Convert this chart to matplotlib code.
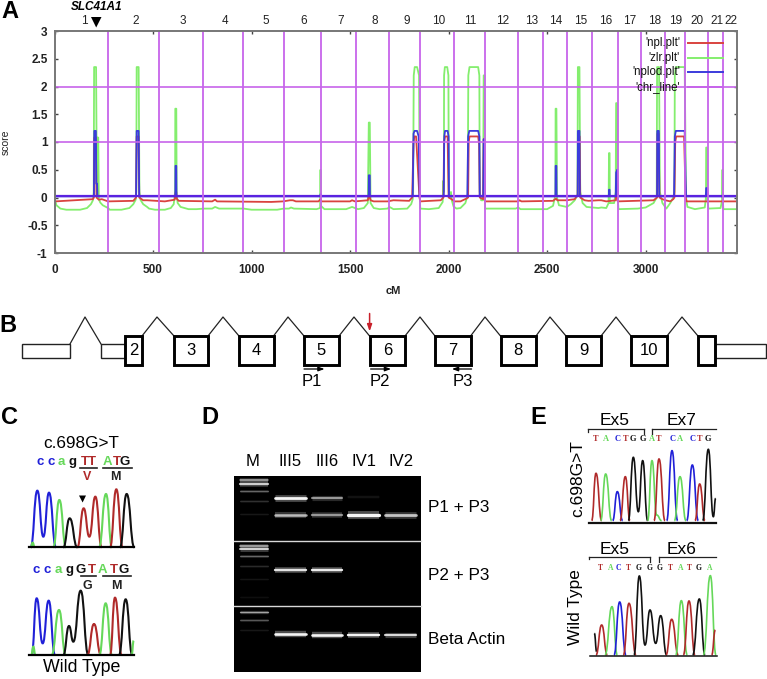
import matplotlib
matplotlib.use("Agg")
import matplotlib.pyplot as plt
from matplotlib.path import Path
from matplotlib.patches import PathPatch, Rectangle, Polygon

plt.rcParams['font.family'] = ['Liberation Sans', 'DejaVu Sans']
W, H = 767, 679

# ---------- Panel A data ----------
chr_bounds = [272, 530, 752, 957, 1163, 1351, 1530, 1698, 1855, 2028, 2184, 2353, 2480,
              2600, 2728, 2859, 2977, 3100, 3201, 3316, 3392]
chr_labels = ['1', '2', '3', '4', '5', '6', '7', '8', '9', '10', '11', '12', '13', '14',
              '15', '16', '17', '18', '19', '20', '21', '22']
chr_label_px = [84, 136, 183, 225, 266, 304, 341, 375, 407, 439, 470, 503, 532, 556, 581, 606,
                630, 655, 676, 697, 717, 731]
zlr = [(0,.5),(3,-.05),(10,-.14),(30,-.2),(60,-.22),(130,-.22),(165,-.19),(185,-.12),(195,-.05),(199,.1),
       (201,2.35),(211,2.35),(215,.1),(218,1.08),(222,1.08),(225,-.03),(232,-.09),(245,-.14),(272,-.19),
       (280,-.22),(340,-.22),(380,-.19),(400,-.12),(412,-.04),(415,.1),(417,2.35),(427,2.35),(431,.1),
       (436,-.04),(450,-.12),(470,-.17),(480,-.2),(510,-.22),(560,-.22),(590,-.19),(605,-.12),(612,.1),
       (613,1.6),(618,1.6),(620,.05),(625,-.1),(640,-.17),(680,-.21),(720,-.21),(760,-.2),(800,-.2),
       (815,-.17),(835,-.2),(960,-.2),(1000,-.22),(1130,-.22),(1163,-.2),(1190,-.2),(1200,-.18),(1215,-.2),
       (1330,-.21),(1348,-.19),(1350,.5),(1352,-.15),(1370,-.21),(1480,-.21),(1510,-.17),(1540,-.21),
       (1570,-.19),(1590,-.1),(1595,1.35),(1600,1.35),(1604,-.1),(1620,-.19),(1650,-.21),(1690,-.2),
       (1700,-.17),(1720,-.21),(1790,-.2),(1810,-.12),(1818,-.03),(1820,.1),(1823,2.2),(1828,2.35),
       (1840,2.35),(1850,2.2),(1853,.1),(1856,-.2),(1900,-.21),(1950,-.19),(1970,-.08),(1973,.3),(1976,.1),
       (1977,2.2),(1981,2.35),(1993,2.35),(1999,2.2),(2001,.1),(2005,0),(2012,.1),(2016,-.05),(2025,-.16),
       (2040,-.2),(2060,-.19),(2085,-.1),(2097,.05),(2100,2.2),(2106,2.35),(2150,2.35),(2156,2.2),(2158,.1),
       (2165,-.05),(2175,-.05),(2178,2.2),(2182,2.2),(2185,-.2),(2340,-.2),(2353,-.18),(2365,-.21),
       (2500,-.21),(2530,-.15),(2542,.05),(2543,1.6),(2547,1.6),(2550,0),(2560,-.14),(2600,-.17),(2620,-.12),
       (2640,-.05),(2654,.05),(2656,2.35),(2664,2.35),(2668,.1),(2680,-.1),(2700,-.17),(2760,-.19),
       (2775,-.18),(2800,-.19),(2812,-.1),(2814,.8),(2817,.8),(2818,-.1),(2840,-.1),(2848,.1),(2850,1.7),
       (2855,1.7),(2858,0),(2862,-.21),(2960,-.2),(3000,-.18),(3040,-.1),(3056,0),(3058,2.35),(3068,2.35),
       (3072,.1),(3085,-.1),(3105,-.2),(3125,-.1),(3140,0),(3146,.1),(3148,2.2),(3153,2.35),(3198,2.35),
       (3204,.3),(3206,-.05),(3212,-.17),(3250,-.21),(3300,-.18),(3306,0),(3307,.9),(3311,.9),(3313,0),
       (3318,-.2),(3380,-.19),(3388,-.05),(3390,.5),(3391,0),(3394,-.21),(3462,-.21)]
npl = [(0,-.03),(5,-.07),(195,-.03),(200,0),(202,1.08),(210,1.08),(213,0),(225,-.04),(240,-.03),(272,-.07),
       (400,-.06),(414,0),(417,1.1),(427,1.1),(430,0),(450,-.05),(470,-.05),(560,-.07),(610,-.04),(615,.1),
       (618,.1),(620,-.02),(630,-.06),(800,-.07),(815,-.04),(825,-.07),(1100,-.08),(1160,-.07),(1195,-.05),
       (1210,-.05),(1225,-.07),(1340,-.07),(1350,-.03),(1355,-.07),(1500,-.07),(1510,-.05),(1525,-.07),
       (1590,-.05),(1597,.05),(1604,-.05),(1620,-.07),(1690,-.07),(1720,-.05),(1800,-.06),(1815,0),(1822,1.0),
       (1826,1.1),(1835,1.1),(1852,0),(1856,-.07),(1960,-.05),(1974,0),(1977,1.0),(1982,1.1),(1995,1.1),
       (2000,0),(2015,-.03),(2030,-.07),(2060,-.07),(2090,-.02),(2099,0),(2102,1.0),(2106,1.1),(2150,1.1),
       (2155,.95),(2158,0),(2175,-.03),(2178,1.05),(2182,1.05),(2185,-.07),(2353,-.07),(2360,-.05),(2370,-.07),
       (2530,-.06),(2545,-.02),(2552,-.05),(2600,-.05),(2640,-.03),(2655,.05),(2657,1.1),(2665,1.1),(2668,0),
       (2690,-.05),(2710,-.06),(2760,-.05),(2775,-.05),(2800,-.07),(2848,-.05),(2851,.25),(2856,.25),(2858,-.07),
       (3040,-.05),(3058,0),(3060,1.15),(3066,1.15),(3070,0),(3085,-.03),(3100,-.05),(3125,-.07),(3140,-.03),
       (3146,0),(3150,1.0),(3155,1.1),(3195,1.1),(3203,0),(3208,-.07),(3462,-.07)]
nplod = [(0,.02),(200,.02),(202,1.2),(210,1.2),(212,.25),(216,.25),(218,.02),(414,.02),(417,1.2),(427,1.2),
         (430,.02),(613,.02),(614,.57),(618,.57),(619,.02),(1349,.02),(1350,.06),(1352,.06),(1353,.02),
         (1594,.02),(1595,.4),(1600,.4),(1601,.02),(1818,.02),(1822,1.15),(1827,1.2),(1840,1.2),(1848,1.1),
         (1853,.02),(1975,.02),(1978,1.1),(1982,1.2),(1995,1.2),(2000,1.1),(2002,.02),(2095,.02),(2099,1.1),
         (2105,1.2),(2150,1.2),(2156,1.1),(2158,.02),(2176,.02),(2178,1.05),(2182,1.05),(2184,.02),(2542,.02),
         (2543,.57),(2547,.57),(2548,.02),(2655,.02),(2656,1.2),(2664,1.2),(2666,.02),(2813,.02),(2814,.14),
         (2817,.14),(2818,.02),(2848,.02),(2850,.45),(2856,.5),(2858,.02),(3058,.02),(3059,1.2),(3067,1.2),
         (3069,.02),(3144,.02),(3148,1.1),(3153,1.2),(3198,1.2),(3203,.25),(3205,.02),(3305,.02),(3307,.17),
         (3313,.17),(3315,.02),(3462,.02)]
legend_labels = ["'npl.plt'", "'zlr.plt'", "'nplod.plt'", "'chr_line'"]
C_RED, C_GRN, C_BLU, C_PUR = '#d9433f', '#84ee6e', '#3b3bdc', '#c765ea'

# ---------- Panel B data ----------
exons = [('2',125,142),('3',174,208),('4',239,273.5),('5',304,339),('6',369.6,405),('7',435,470.6),
         ('8',500.5,536),('9',566,601),('10',631,667),('',698,715)]
utrs = [(22,70),(101,125),(715,766)]
intron_peaks = [85,157,223,288,354,420,485,550,616,682]
primers = [('P1',304,324.5,312),('P2',370.6,391,380),('P3',471.6,452,463)]

# ---------- Panel D data ----------
gel_lanes = ['M','III5','III6','IV1','IV2']
gel_lane_px = [253,290,327,364,401]
gel_labels = [('P1 + P3',508),('P2 + P3',575),('Beta Actin',639)]
# (x0, x1, y, brightness, thickness)
gel_bands = [(240,268,480,.65,1.2),(240,268,484,.8,1.8),(240,268,491,.35,1),(240,268,501,.16,1),(240,268,514,.08,1),
             (275,305.7,497.5,1,2.2),(275,305.7,515,.7,2),(311.7,342.3,497.5,.55,1.7),(311.7,342.3,515,.55,1.9),
             (348.3,379,496.5,.08,1.2),(348.3,379,515,1,2.6),(385.3,416,514.5,.75,2.2),
             (240,268,545.5,.65,1.3),(240,268,549,.8,1.6),(240,268,556,.35,1),(240,268,566,.14,1),(240,268,579,.07,1),(240,268,597,.05,1),
             (275,305.7,570,.9,1.9),(311.7,342.3,570,.95,1.9),
             (240,268,611.5,.6,1.1),(240,268,620,.3,1),(240,268,630,.08,1),
             (275,305.7,634,1,2.1),(311.7,342.3,634.5,1,2.1),(348.3,379,634.5,1,1.9),(385.3,416,635,.85,1.7)]

# ---------- Panels C / E traces, each run alternates base and peak (px) ----------
K, R, G, B = '#111111', '#b02a2a', '#66d85a', '#2020d8'
C_top = [(B,[(92,442),(112,272),(130,410),(147,278),(168,442)]),(G,[(160,442),(178,300),(198,442)]),
         (K,[(190,442),(209,355),(232,442)]),(R,[(232,442),(251,325),(268,410),(286,290),(305,442)]),
         (G,[(297,442),(318,282),(336,442)]),(R,[(330,442),(349,268),(368,442)]),(K,[(360,442),(380,282),(403,442)]),
         (G,[(92,442),(98,428),(104,442)])]
C_bot = [(B,[(95,765),(110,595),(128,730),(146,602),(165,765)]),(G,[(155,765),(177,630),(197,765)]),
         (K,[(190,765),(207,678),(220,725),(242,572),(265,765)]),(R,[(262,765),(282,672),(303,765)]),
         (G,[(298,765),(317,610),(336,765)]),(R,[(330,765),(345,593),(365,765)]),(K,[(357,765),(377,598),(397,765)]),
         (G,[(395,765),(401,722)]),(G,[(94,765),(100,740),(106,765)])]
E_top = [(R,[(185,362),(198,220),(215,362)]),(G,[(212,362),(227,222),(245,362)]),(B,[(248,362),(262,275),(278,362)]),
         (R,[(270,362),(286,230),(300,362)]),(K,[(295,362),(310,172),(325,335),(338,182),(353,362)]),
         (G,[(353,362),(366,182),(380,345),(395,362)]),(R,[(372,362),(387,177),(405,362)]),(B,[(410,362),(426,152),(443,362)]),
         (G,[(433,362),(450,230),(468,362)]),(B,[(470,362),(487,195),(505,362)]),(R,[(495,362),(509,252),(525,362)]),
         (K,[(518,362),(535,148),(550,350),(557,295)])]
E_bot = [(K,[(193,700),(200,755)]),(R,[(198,765),(215,675),(232,765)]),(G,[(225,765),(246,620),(262,765)]),
         (B,[(252,765),(269,606),(288,765)]),(R,[(280,765),(297,610),(318,765)]),
         (K,[(312,765),(328,528),(345,735),(360,630),(377,730),(392,647),(410,765)]),(R,[(408,765),(425,658),(445,765)]),
         (G,[(437,765),(454,602),(472,765)]),(R,[(460,765),(477,603),(495,765)]),(K,[(488,765),(508,597),(525,765)]),
         (G,[(520,765),(541,527),(558,765)]),(R,[(545,765),(556,690)])]
# (letter, x, colour)
C_seq_top = [('c',122,B),('c',153,B),('a',184,G),('g',217,K),('T',254,R),('T',276,R),('A',323,G),('T',350,R),('G',375,K)]
C_seq_bot = [('c',110,B),('c',143,B),('a',175,G),('g',208,K),('G',243,K),('T',275,R),('A',308,G),('T',342,R),('G',370,K)]
E_seq_top = [('T',198,R),('A',228,G),('C',262,B),('T',286,R),('G',310,K),('G',338,K),('A',365,G),('T',387,R),
             ('C',427,B),('A',450,G),('C',487,B),('T',509,R),('G',535,K)]
E_seq_bot = [('T',212,R),('A',243,G),('C',266,B),('T',296,R),('G',325,K),('G',358,K),('G',390,K),('T',420,R),
             ('A',452,G),('T',477,R),('G',505,K),('A',540,G)]

fig = plt.figure(figsize=(W/100, H/100), dpi=100)

# ---------- Panel A axes ----------
L, Rr, T, Bt = 54.5, 736.7, 31, 253
ax = fig.add_axes([L/W, 1-Bt/H, (Rr-L)/W, (Bt-T)/H])
ax.set_xlim(0, 3462); ax.set_ylim(-1, 3)
for series, col in ((zlr, C_GRN), (npl, C_RED), (nplod, C_BLU)):
    ax.plot([p[0] for p in series], [p[1] for p in series], color=col, lw=1.3, solid_joinstyle='round')
ax.axhline(1, color=C_PUR, lw=1.2); ax.axhline(2, color=C_PUR, lw=1.2)
ax.plot([0, 3462], [.02, .02], color='#5a22e0', lw=1.6)
for b in chr_bounds:
    ax.axvline(b, color=C_PUR, lw=1.3)
ax.set_xticks([0,500,1000,1500,2000,2500,3000])
ax.set_yticks([-1,-.5,0,.5,1,1.5,2,2.5,3])
ax.set_yticklabels(['-1','-0.5','0','0.5','1','1.5','2','2.5','3'])
ax.tick_params(direction='in', length=2.5, width=1, color='#444444', labelsize=8.5, labelcolor='#222222',
               top=True, right=True, pad=5)
ax.tick_params(axis='x', pad=8)
for lab in ax.get_xticklabels() + ax.get_yticklabels():
    lab.set_fontweight('bold')
for s in ax.spines.values():
    s.set_color('#777777'); s.set_linewidth(1.4)

# ---------- Overlay in image pixels ----------
ov = fig.add_axes([0, 0, 1, 1], zorder=5)
ov.set_xlim(0, W); ov.set_ylim(H, 0); ov.axis('off'); ov.patch.set_alpha(0)

def txt(x, y, s, size=12, **kw):
    kw.setdefault('ha', 'center'); kw.setdefault('va', 'center')
    ov.text(x, y, s, fontsize=size, **kw)

def trace(runs, ox=0, oy=0, sc=3.0, lw=1.3):
    for col, pts in runs:
        P = [(ox + x/sc, oy + y/sc) for x, y in pts]
        verts = [P[0]]; codes = [Path.MOVETO]
        for (x0, y0), (x1, y1) in zip(P[:-1], P[1:]):
            d = (x1 - x0) * .5
            verts += [(x0 + d, y0), (x1 - d, y1), (x1, y1)]
            codes += [Path.CURVE4] * 3
        ov.add_patch(PathPatch(Path(verts, codes), fc='none', ec=col, lw=lw))

for s, x in zip(chr_labels, chr_label_px):
    txt(x, 21, s, 8.5, color='#222222')
txt(97, 7, 'SLC41A1', 8.5, fontweight='bold', style='italic')
ov.add_patch(Polygon([(91, 17), (101.5, 17), (96.2, 27.5)], closed=True, fc='black', ec='none'))
txt(5.5, 142, 'score', 7.5, rotation=90, color='#222222')
txt(393, 291, 'cM', 8, fontweight='bold', color='#222222')
for s, y, c in zip(legend_labels, [42.7, 58, 72, 86.7], [C_RED, C_GRN, C_BLU, C_PUR]):
    txt(680, y, s, 8.3, ha='right', color='#111111')
    ov.plot([687.7, 722.7], [y, y], color=c, lw=1.4)
for s, x, y in (('A', 10, 12), ('B', 8, 325), ('C', 9, 418), ('D', 210, 418), ('E', 538, 418)):
    txt(x, y, s, 17, fontweight='bold')

# ---------- Panel B ----------
ytop, ybot, ut, ub = 336, 365, 344, 358
for a, b in utrs:
    ov.add_patch(Rectangle((a, ut), b-a, ub-ut, fc='white', ec='#222222', lw=1))
for s, a, b in exons:
    ov.add_patch(Rectangle((a, ytop), b-a, ybot-ytop, fc='white', ec='black', lw=2.1, zorder=3))
    if s:
        txt((a+b)/2, 350.5, s, 12, zorder=4)
rights = [(70, ut), (142, ytop), (208, ytop), (273.5, ytop), (339, ytop), (405, ytop), (470.6, ytop),
          (536, ytop), (601, ytop), (667, ytop)]
lefts = [(101, ut), (174, ytop), (239, ytop), (304, ytop), (369.6, ytop), (435, ytop), (500.5, ytop),
         (566, ytop), (631, ytop), (698, ytop)]
for r, p, l in zip(rights, intron_peaks, lefts):
    ov.plot([r[0], p, l[0]], [r[1], 317, l[1]], color='#222222', lw=0.9)
ov.annotate('', xy=(369.6, 331.5), xytext=(369.6, 313.5),
            arrowprops=dict(arrowstyle='-|>,head_width=.14,head_length=.4', color='#c8202a', lw=1.1, shrinkA=0, shrinkB=0))
for s, a, b, tx in primers:
    ov.annotate('', xy=(b, 369), xytext=(a, 369),
                arrowprops=dict(arrowstyle='-|>,head_width=.13,head_length=.35', color='black', lw=.9, shrinkA=0, shrinkB=0))
    txt(tx, 382, s, 12)

# ---------- Panel C ----------
txt(81.5, 443, 'c.698G>T', 12.3)
for s, x, c in C_seq_top:
    txt(x/3, 400+187/3, s, 9.5, color=c, fontweight='bold')
for s, x, c in C_seq_bot:
    txt(x/3, 400+510/3, s, 9.5, color=c, fontweight='bold')
for x0, x1, y in ((240,290,203),(310,397,203),(243,288,527),(308,392,527)):
    ov.plot([x0/3, x1/3], [400+y/3]*2, color='#222222', lw=1.2)
txt(262/3, 400+230/3, 'V', 9, color=R, fontweight='bold')
txt(347/3, 400+230/3, 'M', 9, color='#222222', fontweight='bold')
txt(263/3, 400+558/3, 'G', 9, color='#222222', fontweight='bold')
txt(348/3, 400+558/3, 'M', 9, color='#222222', fontweight='bold')
ov.add_patch(Polygon([(79, 495.5), (86, 495.5), (82.6, 502.5)], closed=True, fc='black', ec='none'))
trace(C_top, 0, 400, lw=1.5); trace(C_bot, 0, 400, lw=1.5)
for y in (442, 765):
    ov.plot([88/3, 403/3], [400+y/3]*2, color='black', lw=1.6)
txt(82, 668, 'Wild Type', 12.8)

# ---------- Panel D ----------
ov.add_patch(Rectangle((234.3, 475.7), 186.4, 196, fc='black', ec='none', zorder=1))
for y in (540.7, 606.3):
    ov.plot([234.3, 420.7], [y, y], color='#d8d8d8', lw=1, zorder=2)
for x0, x1, y, v, t in gel_bands:
    ov.plot([x0, x1], [y, y], color='white', alpha=.3*v, lw=t*2.2, zorder=2, solid_capstyle='butt')
    ov.plot([x0, x1], [y, y], color='white', alpha=.95*v, lw=t*.9, zorder=2, solid_capstyle='round')
for s, x in zip(gel_lanes, gel_lane_px):
    txt(x, 461.5, s, 12)
for s, y in gel_labels:
    txt(427.5, y, s, 12.3, ha='left')

# ---------- Panel E ----------
ox = 530
trace(E_top, ox, 400, lw=1.2); trace(E_bot, ox, 400, lw=1.2)
for s, x, c in E_seq_top:
    txt(ox+x/3, 400+118/3, s, 6, color=c, fontweight='bold', family='Liberation Serif')
for s, x, c in E_seq_bot:
    txt(ox+x/3, 400+505/3, s, 5.5, color=c, fontweight='bold', family='Liberation Serif')
ov.plot([ox+178/3, ox+558/3], [400+368/3]*2, color='#111111', lw=1.6)
ov.plot([ox+180/3, ox+560/3], [400+768/3]*2, color='#111111', lw=1.1)
for s, x, y in (('Ex5',253,62),('Ex7',455,62),('Ex5',255,447),('Ex6',455,447)):
    txt(ox+x/3, 400+y/3, s, 12.5)
for x0, x1, y, tick_x, y2 in ((173,342,88,342,103),(365,558,88,365,103),(178,360,470,360,485),(388,558,470,388,485)):
    ov.plot([ox+x0/3, ox+x1/3], [400+y/3]*2, color='#222222', lw=.9)
    ov.plot([ox+tick_x/3]*2, [400+y/3, 400+y2/3], color='#222222', lw=.9)
for x, y in ((173,88),(178,470)):
    ov.plot([ox+x/3]*2, [400+y/3, 400+(y+8)/3], color='#222222', lw=.9)
txt(ox+143/3, 400+235/3, 'c.698G>T', 12.5, rotation=90)
txt(ox+137/3, 400+620/3, 'Wild Type', 12.5, rotation=90)

fig.savefig('out.png', dpi=100)
